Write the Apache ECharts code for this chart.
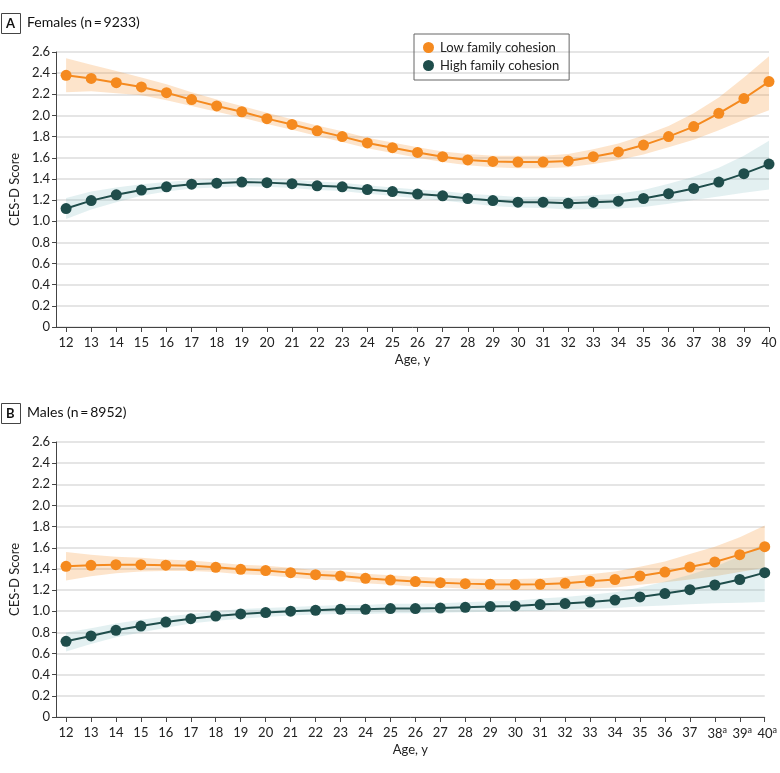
<!DOCTYPE html>
<html>
<head>
<meta charset="utf-8">
<script src="https://cdn.jsdelivr.net/npm/echarts@6/dist/echarts.min.js"></script>
<style>
  html, body { margin: 0; padding: 0; background: #fff; }
  #main { width: 780px; height: 773px; }
</style>
</head>
<body>
<div id="main"></div>
<script>
// 年龄
const ages = [12, 13, 14, 15, 16, 17, 18, 19, 20, 21, 22, 23, 24, 25, 26, 27, 28, 29, 30, 31, 32, 33, 34, 35, 36, 37, 38, 39, 40];
const yTicks = [0, 0.2, 0.4, 0.6, 0.8, 1.0, 1.2, 1.4, 1.6, 1.8, 2.0, 2.2, 2.4, 2.6];
const starredAges = [38, 39, 40];

// A: Females
const femLow = [2.38, 2.35, 2.31, 2.27, 2.215, 2.15, 2.09, 2.035, 1.97, 1.915, 1.855, 1.80, 1.74, 1.695, 1.65, 1.61, 1.58, 1.565, 1.56, 1.56, 1.57, 1.61, 1.655, 1.72, 1.80, 1.895, 2.02, 2.16, 2.32];
const femLowLo = [2.22, 2.23, 2.21, 2.19, 2.145, 2.09, 2.035, 1.98, 1.92, 1.865, 1.805, 1.75, 1.69, 1.645, 1.60, 1.56, 1.53, 1.51, 1.50, 1.50, 1.51, 1.54, 1.58, 1.63, 1.70, 1.77, 1.86, 1.96, 2.05];
const femLowHi = [2.54, 2.48, 2.42, 2.36, 2.295, 2.22, 2.15, 2.09, 2.025, 1.965, 1.905, 1.85, 1.79, 1.745, 1.70, 1.66, 1.635, 1.62, 1.62, 1.62, 1.635, 1.68, 1.735, 1.81, 1.90, 2.02, 2.17, 2.36, 2.56];
const femHigh = [1.12, 1.195, 1.25, 1.295, 1.325, 1.35, 1.36, 1.37, 1.365, 1.355, 1.335, 1.325, 1.30, 1.28, 1.257, 1.24, 1.215, 1.195, 1.18, 1.18, 1.17, 1.18, 1.19, 1.215, 1.26, 1.31, 1.37, 1.45, 1.54];
const femHighLo = [1.02, 1.11, 1.18, 1.24, 1.28, 1.31, 1.32, 1.33, 1.325, 1.315, 1.295, 1.285, 1.26, 1.24, 1.215, 1.195, 1.17, 1.145, 1.13, 1.125, 1.11, 1.115, 1.12, 1.135, 1.165, 1.20, 1.235, 1.27, 1.30];
const femHighHi = [1.22, 1.28, 1.32, 1.35, 1.37, 1.39, 1.40, 1.41, 1.405, 1.395, 1.375, 1.365, 1.34, 1.32, 1.30, 1.285, 1.26, 1.245, 1.23, 1.235, 1.23, 1.245, 1.26, 1.295, 1.355, 1.42, 1.505, 1.62, 1.76];

// B: Males
const maleLow = [1.425, 1.434, 1.44, 1.44, 1.435, 1.43, 1.415, 1.396, 1.384, 1.365, 1.346, 1.333, 1.311, 1.295, 1.28, 1.27, 1.261, 1.255, 1.252, 1.255, 1.264, 1.283, 1.30, 1.333, 1.37, 1.418, 1.466, 1.535, 1.61];
const maleLowLo = [1.29, 1.33, 1.36, 1.375, 1.38, 1.38, 1.37, 1.35, 1.34, 1.32, 1.30, 1.29, 1.265, 1.25, 1.235, 1.225, 1.215, 1.205, 1.20, 1.20, 1.205, 1.215, 1.225, 1.25, 1.275, 1.30, 1.33, 1.37, 1.41];
const maleLowHi = [1.56, 1.535, 1.515, 1.505, 1.49, 1.48, 1.46, 1.44, 1.43, 1.41, 1.39, 1.38, 1.355, 1.34, 1.325, 1.315, 1.31, 1.305, 1.305, 1.31, 1.325, 1.35, 1.375, 1.42, 1.47, 1.54, 1.61, 1.70, 1.81];
const maleHigh = [0.716, 0.766, 0.82, 0.86, 0.898, 0.93, 0.955, 0.974, 0.987, 1.00, 1.009, 1.018, 1.018, 1.025, 1.025, 1.03, 1.037, 1.044, 1.05, 1.063, 1.072, 1.087, 1.106, 1.135, 1.167, 1.204, 1.248, 1.30, 1.365];
const maleHighLo = [0.62, 0.69, 0.755, 0.80, 0.845, 0.885, 0.91, 0.93, 0.945, 0.96, 0.97, 0.975, 0.975, 0.98, 0.98, 0.985, 0.99, 0.995, 1.00, 1.005, 1.01, 1.02, 1.03, 1.045, 1.055, 1.065, 1.075, 1.08, 1.087];
const maleHighHi = [0.80, 0.84, 0.885, 0.92, 0.95, 0.975, 1.00, 1.02, 1.03, 1.04, 1.05, 1.06, 1.06, 1.07, 1.07, 1.075, 1.085, 1.095, 1.10, 1.12, 1.135, 1.155, 1.18, 1.225, 1.28, 1.345, 1.42, 1.52, 1.645];

const ORANGE = '#F58A1F';
const TEAL = '#1F4D4B';
const FONT = 'Lato';

let myChart = echarts.init(document.getElementById('main'));

function xAxisFor(gridIndex, star) {
	return {
		type: 'value',
		gridIndex: gridIndex,
		min: 11.6,
		max: 40,
		name: 'Age, y',
		nameLocation: 'middle',
		nameGap: 26,
		nameTextStyle: { fontFamily: FONT, fontSize: 13, color: '#222' },
		axisLine: { lineStyle: { color: '#444', width: 1 } },
		axisTick: { customValues: ages, length: 5, lineStyle: { color: '#444' } },
		axisLabel: {
			customValues: ages,
			margin: 9,
			fontFamily: FONT,
			fontSize: 13,
			color: '#222',
			formatter: function (v) {
				if (star && starredAges.indexOf(v) >= 0) {
					return '{p|' + v + '}{s|a}';
				}
				return String(v);
			},
			rich: {
				p: { fontFamily: FONT, fontSize: 13, color: '#222', padding: [0, 0, 0, 5] },
				s: { fontFamily: FONT, fontSize: 9, color: '#222', verticalAlign: 'top', padding: [0, 0, 6, 0] }
			}
		},
		splitLine: { show: false }
	};
}

function yAxisFor(gridIndex) {
	return {
		type: 'value',
		gridIndex: gridIndex,
		min: 0,
		max: 2.6,
		interval: 0.2,
		name: 'CES-D Score',
		nameLocation: 'middle',
		nameGap: 34,
		nameTextStyle: { fontFamily: FONT, fontSize: 13, color: '#222' },
		axisLine: { show: true, lineStyle: { color: '#444', width: 1 } },
		axisTick: { show: true, length: 4, lineStyle: { color: '#444' } },
		axisLabel: {
			margin: 6,
			fontFamily: FONT,
			fontSize: 13,
			color: '#222',
			formatter: function (v) { return v === 0 ? '0' : v.toFixed(1); }
		},
		splitLine: { lineStyle: { color: '#dcdcdc', width: 1.5 } }
	};
}

// 置信区间：用 custom 系列画多边形
function band(lo, hi, color, gi) {
	return {
		type: 'custom',
		xAxisIndex: gi,
		yAxisIndex: gi,
		silent: true,
		z: 1,
		data: [[ages[0], lo[0]]],
		renderItem: function (params, api) {
			let pts = [];
			ages.forEach((a, i) => pts.push(api.coord([a, hi[i]])));
			for (let i = ages.length - 1; i >= 0; i--) pts.push(api.coord([ages[i], lo[i]]));
			return {
				type: 'polygon',
				shape: { points: pts },
				style: { fill: color }
			};
		}
	};
}

function mainLine(name, vals, color, gi) {
	return {
		name: name,
		type: 'line', xAxisIndex: gi, yAxisIndex: gi,
		data: ages.map((a, i) => [a, vals[i]]),
		symbol: 'circle', symbolSize: 11,
		itemStyle: { color: color },
		lineStyle: { color: color, width: 2 },
		z: 3
	};
}

const ORANGE_BAND = 'rgba(245,138,31,0.23)';
const TEAL_BAND = 'rgba(100,170,180,0.18)';

var option = {
	animation: false,
	textStyle: { fontFamily: FONT },
	grid: [
		{ left: 48, right: 11, top: 52, height: 275 },
		{ left: 48, right: 11, top: 442, height: 275 }
	],
	xAxis: [xAxisFor(0, false), xAxisFor(1, true)],
	yAxis: [yAxisFor(0), yAxisFor(1)],
	legend: {
		data: ['Low family cohesion', 'High family cohesion'],
		orient: 'vertical',
		left: 414,
		top: 34,
		padding: [7, 10, 8, 9],
		itemGap: 5,
		icon: 'circle',
		itemWidth: 11,
		itemHeight: 11,
		borderColor: '#666',
		borderWidth: 1,
		textStyle: { fontFamily: FONT, fontSize: 13, color: '#222', padding: [0, 0, 0, 1] }
	},
	graphic: [
		{ type: 'rect', left: 1, top: 13, shape: { width: 19, height: 20 }, style: { fill: '#fff', stroke: '#444', lineWidth: 1 } },
		{ type: 'text', left: 6, top: 17, style: { text: 'A', font: 'bold 13px ' + FONT, fill: '#111' } },
		{ type: 'text', left: 27, top: 15, style: { text: 'Females (n\u2009=\u20099233)', font: '14px ' + FONT, fill: '#111' } },
		{ type: 'rect', left: 1, top: 403, shape: { width: 19, height: 20 }, style: { fill: '#fff', stroke: '#444', lineWidth: 1 } },
		{ type: 'text', left: 6, top: 407, style: { text: 'B', font: 'bold 13px ' + FONT, fill: '#111' } },
		{ type: 'text', left: 27, top: 405, style: { text: 'Males (n\u2009=\u20098952)', font: '14px ' + FONT, fill: '#111' } }
	],
	series: [
		band(femLowLo, femLowHi, ORANGE_BAND, 0),
		band(femHighLo, femHighHi, TEAL_BAND, 0),
		band(maleLowLo, maleLowHi, ORANGE_BAND, 1),
		band(maleHighLo, maleHighHi, TEAL_BAND, 1),
		mainLine('Low family cohesion', femLow, ORANGE, 0),
		mainLine('High family cohesion', femHigh, TEAL, 0),
		mainLine('Low family cohesion', maleLow, ORANGE, 1),
		mainLine('High family cohesion', maleHigh, TEAL, 1)
	]
};

myChart.setOption(option);
</script>
</body>
</html>
